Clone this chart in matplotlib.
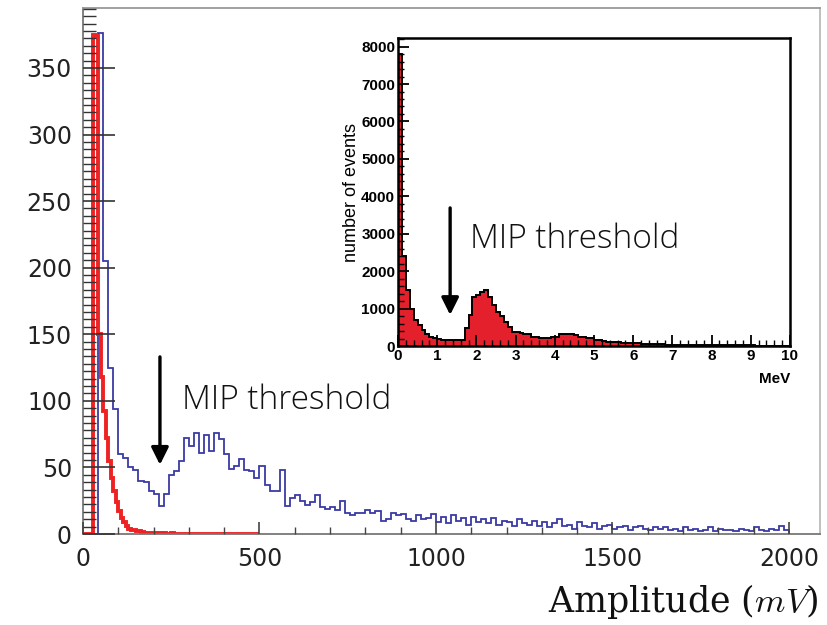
import numpy as np
import matplotlib
matplotlib.use("Agg")
import matplotlib.pyplot as plt
from matplotlib.ticker import MultipleLocator

plt.rcParams['mathtext.fontset'] = 'cm'

# ---------------- data ----------------
# main plot: blue histogram (counts per bin), bins of 2000/140 mV starting at 0 mV
blue_bin_width = 2000 / 140
blue_counts = [
    0, 0, 0, 376, 205, 125, 94, 60, 57, 50,
    48, 40, 39, 32, 30, 21, 30, 44, 47, 55,
    72, 66, 76, 61, 74, 62, 76, 71, 60, 49,
    51, 56, 48, 47, 42, 51, 37, 32, 32, 48,
    21, 27, 29, 25, 22, 24, 29, 20, 19, 20,
    18, 25, 16, 14, 16, 16, 18, 16, 17, 10,
    11, 16, 14, 15, 11, 10, 14, 11, 12, 15,
    9, 13, 8, 14, 10, 12, 7, 13, 9, 11,
    8, 12, 7, 10, 9, 6, 11, 8, 7, 10,
    6, 9, 5, 8, 11, 6, 7, 4, 9, 6,
    5, 8, 4, 6, 7, 4, 5, 6, 3, 5,
    6, 4, 3, 5, 4, 5, 3, 4, 2, 5,
    3, 4, 2, 3, 5, 2, 4, 3, 3, 2,
    4, 3, 2, 5, 3, 2, 4, 3, 6, 3,
]
# main plot: red histogram, bins of 2000/280 mV starting at 0 mV
red_bin_width = 2000 / 280
red_counts = [
    0, 0, 0, 0, 375, 374, 150, 118, 92, 72,
    55, 42, 32, 24, 17, 12, 9, 6, 4, 3,
    3, 2, 2, 1.5, 1, 1, 1, 0.8, 0.6, 0.5,
    0.4, 0.3, 0.4, 0.3, 0.3, 0.4, 0.3, 0.3, 0.3, 0.3,
    0.3, 0.3, 0.3, 0.3, 0.3, 0.3, 0.3, 0.3, 0.3, 0.3,
    0.3, 0.3, 0.3, 0.3, 0.3, 0.3, 0.3, 0.3, 0.3, 0.3,
    0.3, 0.3, 0.3, 0.3, 0.3, 0.3, 0.3, 0.3, 0.3, 0.3,
]

# inset: energy spectrum, bins of 0.1 MeV from 0 to 10 MeV
inset_bin_width = 0.1
inset_counts = [
    7800, 2400, 1500, 1000, 700, 560, 430, 320, 250, 210,
    180, 170, 165, 160, 165, 150, 170, 480, 830, 1320,
    1350, 1440, 1500, 1320, 1100, 920, 790, 650, 520, 380,
    380, 340, 310, 310, 250, 250, 205, 205, 205, 250,
    250, 310, 310, 310, 310, 300, 250, 250, 205, 205,
    160, 160, 130, 115, 115, 100, 95, 90, 85, 80,
    80, 75, 65, 60, 60, 55, 50, 45, 40, 40,
    38, 35, 33, 30, 30, 28, 27, 25, 24, 22,
    22, 20, 20, 18, 18, 16, 16, 15, 15, 14,
    14, 13, 13, 12, 12, 11, 11, 10, 10, 10,
]

main_yticks = [0, 50, 100, 150, 200, 250, 300, 350]
main_xticks = [0, 500, 1000, 1500, 2000]
inset_yticks = [0, 1000, 2000, 3000, 4000, 5000, 6000, 7000, 8000]
inset_xticks = [0, 1, 2, 3, 4, 5, 6, 7, 8, 9, 10]

label_text = "MIP threshold"

# ---------------- figure ----------------
W, H = 828, 625
fig = plt.figure(figsize=(W / 100, H / 100), dpi=100)

ax = fig.add_axes([83 / W, (H - 534) / H, (820 - 83) / W, (534 - 8) / H])
ax.set_xlim(0, 2088)
ax.set_ylim(0, 395)
ax.set_axisbelow(False)

blue_edges = np.arange(len(blue_counts) + 1) * blue_bin_width
red_edges = np.arange(len(red_counts) + 1) * red_bin_width
ax.stairs(blue_counts, blue_edges, color='#3a3aa6', lw=1.3, zorder=2)
ax.stairs(red_counts, red_edges, color='#ee2222', lw=2.8, zorder=2.2)

for s in ax.spines.values():
    s.set_color('#777777')
    s.set_linewidth(1.3)
ax.spines['right'].set_color('#bbbbbb')
ax.spines['top'].set_color('#999999')

ax.set_yticks(main_yticks)
ax.set_xticks(main_xticks)
ax.yaxis.set_minor_locator(MultipleLocator(50 / 9))
ax.xaxis.set_minor_locator(MultipleLocator(100))
tick_font = dict(family='DejaVu Sans', size=17)
ax.set_yticklabels([str(v) for v in main_yticks], **tick_font, color='#222222')
ax.set_xticklabels([str(v) for v in main_xticks], **tick_font, color='#222222')
ax.tick_params(axis='y', which='major', direction='in', length=23, width=1.2,
               color='#333333', pad=8, right=False)
ax.tick_params(axis='y', which='minor', direction='in', length=9, width=1.0,
               color='#333333', right=False)
ax.tick_params(axis='x', which='major', direction='in', length=9, width=1.2,
               color='#444444', pad=9, top=False)
ax.tick_params(axis='x', which='minor', direction='in', length=5, width=1.0,
               color='#444444', top=False)

ax.annotate('', xy=(218, 52), xytext=(218, 133),
            arrowprops=dict(arrowstyle='-|>', color='black', lw=2.4,
                            mutation_scale=26, shrinkA=0, shrinkB=0))
ax.text(280, 94, label_text, fontsize=24, family='Open Sans', fontweight='light',
        color='#111111', va='baseline', ha='left')

fig.text(818 / W, 1 - 612 / H, r'Amplitude ($mV$)', family='DejaVu Serif',
         fontsize=25, ha='right', va='baseline', color='#111111')

# ---------------- inset ----------------
ins = fig.add_axes([398 / W, (H - 346) / H, (790 - 398) / W, (346 - 38) / H])
ins.set_xlim(0, 10)
ins.set_ylim(0, 8230)
ins.set_axisbelow(False)
inset_edges = np.arange(len(inset_counts) + 1) * inset_bin_width
ins.stairs(inset_counts, inset_edges, fill=True, color='#e3202b', zorder=1.5)
ins.stairs(inset_counts, inset_edges, color='black', lw=1.4, zorder=1.6)
for s in ins.spines.values():
    s.set_color('black')
    s.set_linewidth(1.8)

ins.set_xticks(inset_xticks)
ins.set_yticks(inset_yticks)
ins.xaxis.set_minor_locator(MultipleLocator(0.2))
ins.yaxis.set_minor_locator(MultipleLocator(200))
small_font = dict(family='Liberation Sans', size=11, weight='bold')
ins.set_xticklabels([str(v) for v in inset_xticks], **small_font)
ins.set_yticklabels([str(v) for v in inset_yticks], **small_font)
ins.tick_params(axis='both', which='major', direction='in', length=8, width=1.3,
                color='black', pad=2)
ins.tick_params(axis='both', which='minor', direction='in', length=4, width=1.0,
                color='black')
ins.tick_params(top=False, right=False, which='both')
ins.set_ylabel('number of events', family='Liberation Sans', fontsize=13, labelpad=1)
ins.text(1.0, -0.085, 'MeV', transform=ins.transAxes, ha='right', va='top',
         **small_font)

ins.annotate('', xy=(1.33, 830), xytext=(1.33, 3690),
             arrowprops=dict(arrowstyle='-|>', color='black', lw=2.4,
                             mutation_scale=26, shrinkA=0, shrinkB=0))
ins.text(1.84, 2620, label_text, fontsize=24, family='Open Sans', fontweight='light',
         color='#111111', va='baseline', ha='left')

fig.savefig('out.png', dpi=100)
